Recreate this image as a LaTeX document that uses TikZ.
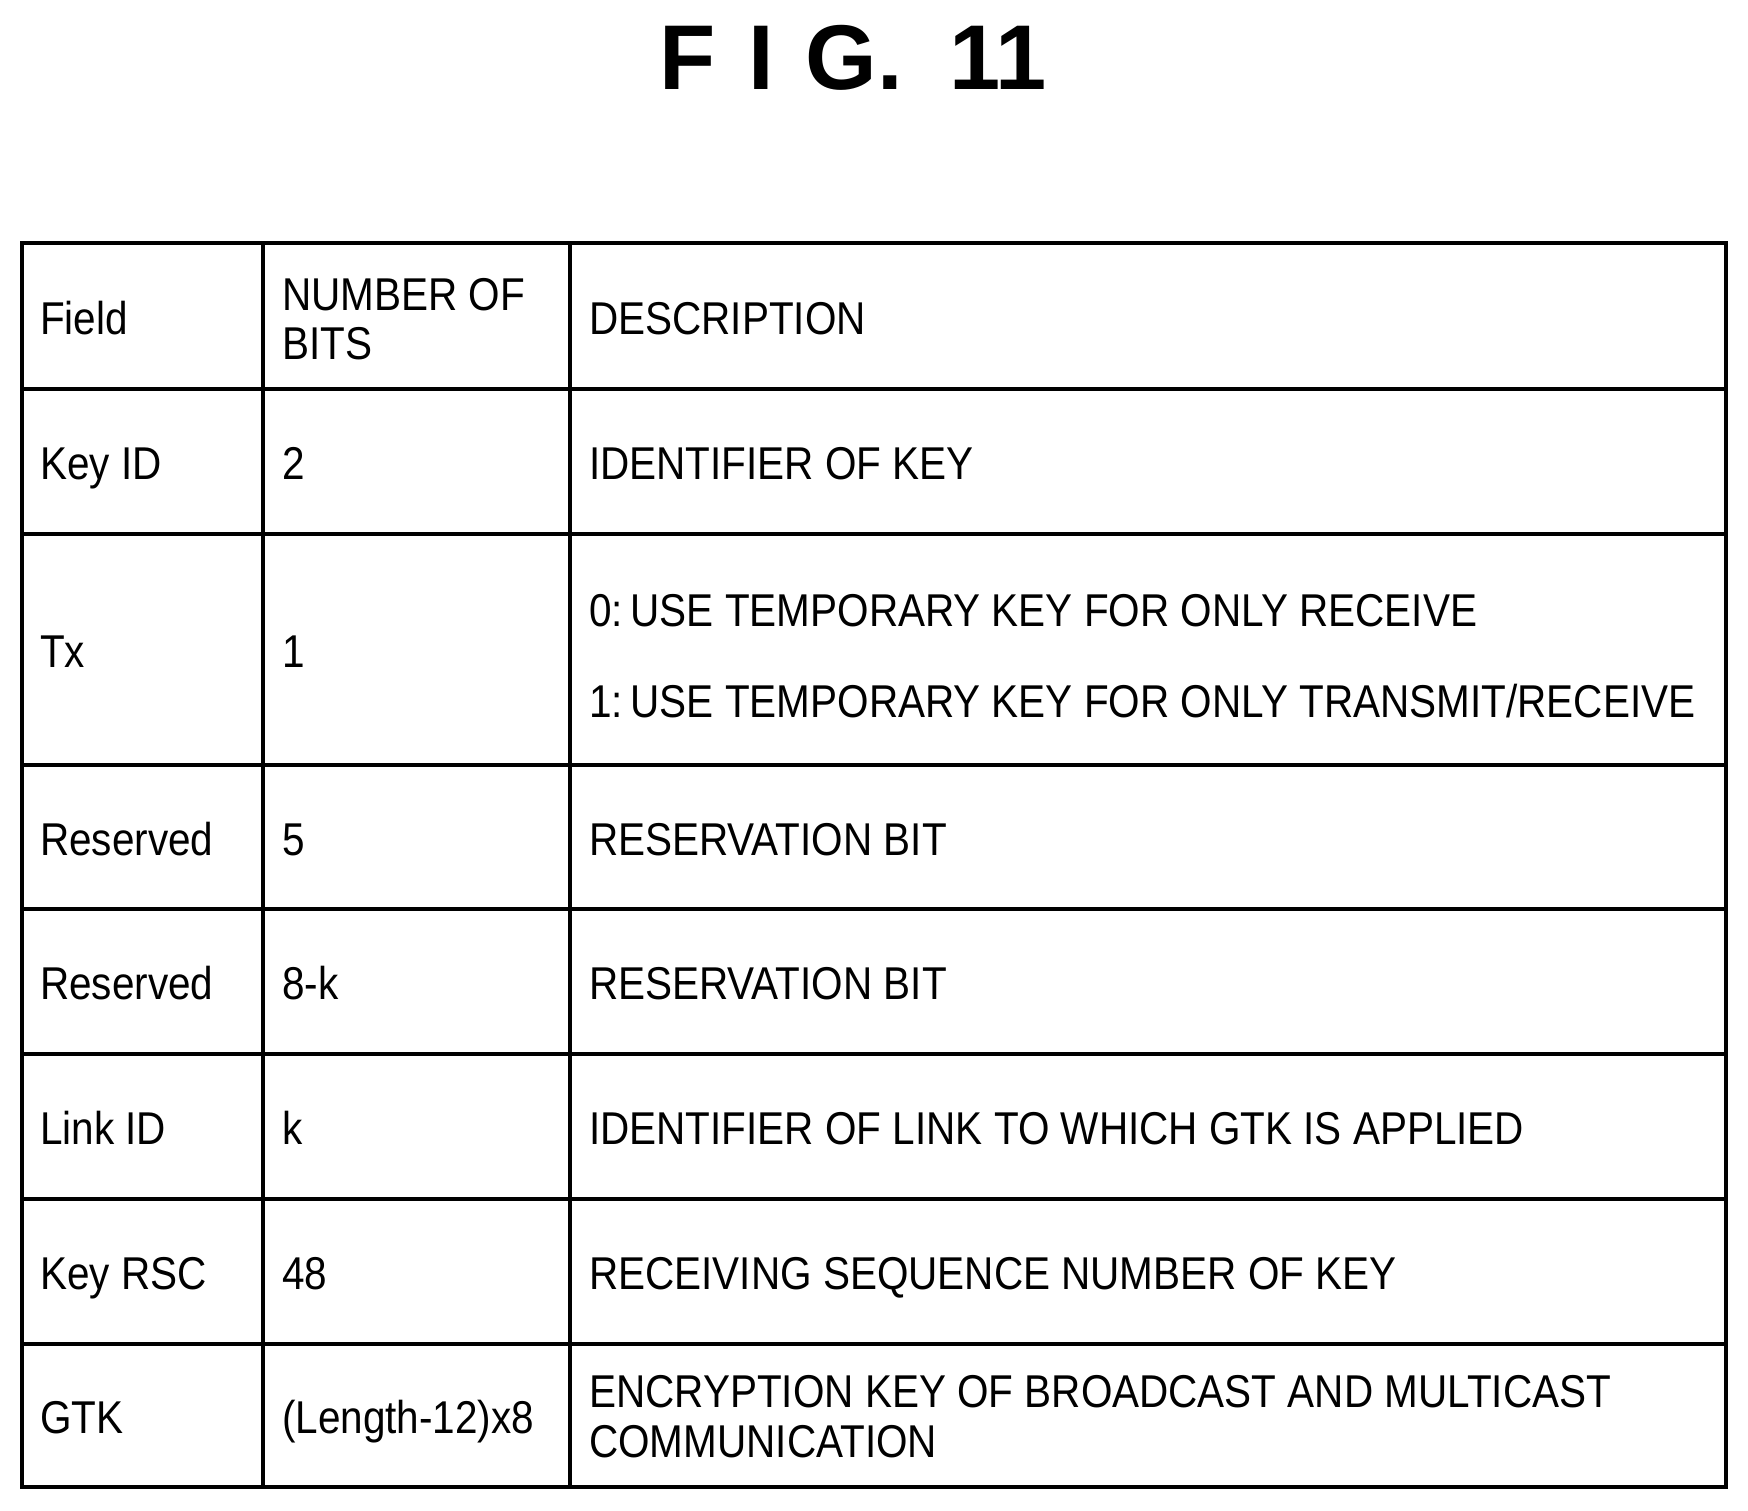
\documentclass[tikz,border=0pt]{standalone}
\usepackage{fontspec}
\setmainfont{Liberation Sans}
\newfontfamily\narrowf[FakeStretch=0.88]{Liberation Sans}
\begin{document}
\begin{tikzpicture}[x=1pt,y=-1pt,
  cell/.style={anchor=base west,inner sep=0pt,font=\narrowf\fontsize{46}{50}\selectfont},
  grid/.style={line width=4pt}]
\useasboundingbox (0,0) rectangle (1748,1511);
\node[font=\bfseries\fontsize{92}{92}\selectfont] (title) at (853,58) {F\hspace{0.35em}I\hspace{0.35em}G.\hspace{0.5em}11};
\draw[grid] (22,243) rectangle (1726,1487);
\foreach \y in {389,534,765,909,1054,1199,1344} \draw[grid] (22,\y) -- (1726,\y);
\foreach \x in {263,570} \draw[grid] (\x,243) -- (\x,1487);
\def\cx{40} \def\cy{282} \def\cz{589} \def\d{17}
\node[cell] (h1) at (\cx,318+\d) {Field};
\node[cell] (h2) at (\cy,294+\d) {NUMBER OF};
\node[cell] (h2b) at (\cy,343+\d) {BITS};
\node[cell] (h3) at (\cz,318+\d) {DESCRIPTION};
\node[cell] (a1) at (\cx,462+\d) {Key ID};
\node[cell] (a2) at (\cy,462+\d) {2};
\node[cell] (a3) at (\cz,462+\d) {IDENTIFIER OF KEY};
\node[cell] (b1) at (\cx,650+\d) {Tx};
\node[cell] (b2) at (\cy,650+\d) {1};
\node[cell] (b3) at (\cz,609+\d) {0:\,USE TEMPORARY KEY FOR ONLY RECEIVE};
\node[cell] (b4) at (\cz,700+\d) {1:\,USE TEMPORARY KEY FOR ONLY TRANSMIT/RECEIVE};
\node[cell] (c1) at (\cx,838+\d) {Reserved};
\node[cell] (c2) at (\cy,838+\d) {5};
\node[cell] (c3) at (\cz,838+\d) {RESERVATION BIT};
\node[cell] (d1) at (\cx,982+\d) {Reserved};
\node[cell] (d2) at (\cy,982+\d) {8-k};
\node[cell] (d3) at (\cz,982+\d) {RESERVATION BIT};
\node[cell] (e1) at (\cx,1127+\d) {Link ID};
\node[cell] (e2) at (\cy,1127+\d) {k};
\node[cell] (e3) at (\cz,1127+\d) {IDENTIFIER OF LINK TO WHICH GTK IS APPLIED};
\node[cell] (f1) at (\cx,1272+\d) {Key RSC};
\node[cell] (f2) at (\cy,1272+\d) {48};
\node[cell] (f3) at (\cz,1272+\d) {RECEIVING SEQUENCE NUMBER OF KEY};
\node[cell] (g1) at (\cx,1416+\d) {GTK};
\node[cell] (g2) at (\cy,1416+\d) {(Length-12)x8};
\node[cell] (g3) at (\cz,1390+\d) {ENCRYPTION KEY OF BROADCAST AND MULTICAST};
\node[cell] (g4) at (\cz,1440+\d) {COMMUNICATION};
\end{tikzpicture}
\end{document}
